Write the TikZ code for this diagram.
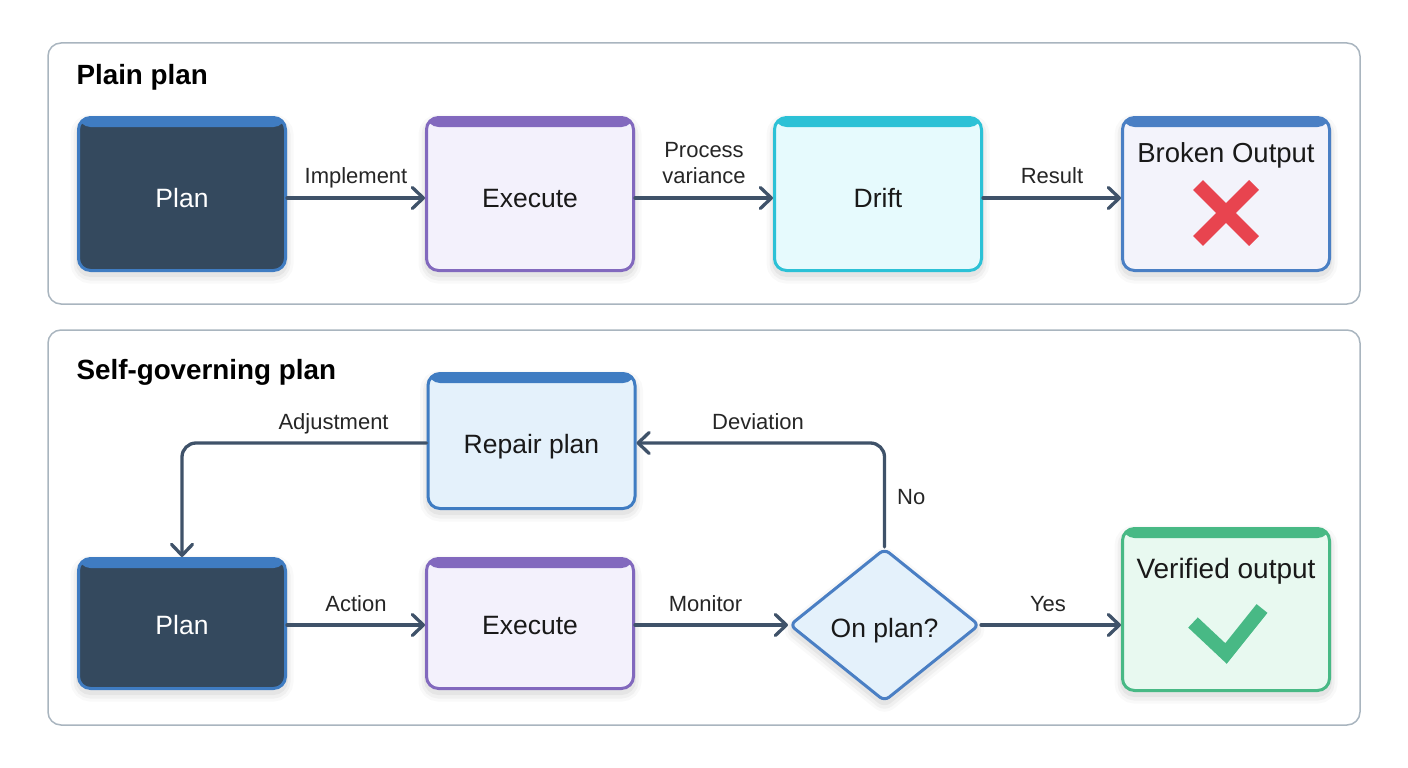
\documentclass[tikz,border=0pt]{standalone}
\usepackage{fontspec}
\setmainfont{Liberation Sans}
\usepackage{xcolor}
\usepackage{tikz}
\usetikzlibrary{arrows.meta, calc, shapes.geometric}

\definecolor{PanelLine}{HTML}{A9B5BF}
\definecolor{FlowLine}{HTML}{3F5269}
\definecolor{PlanBlue}{HTML}{3F7CC2}
\definecolor{PlanDark}{HTML}{34495E}
\definecolor{ExecLine}{HTML}{8269BE}
\definecolor{ExecFill}{HTML}{F3F1FC}
\definecolor{DriftLine}{HTML}{2CC1D6}
\definecolor{DriftFill}{HTML}{E6FAFD}
\definecolor{BrokenLine}{HTML}{4A7FC4}
\definecolor{BrokenFill}{HTML}{F3F3FB}
\definecolor{RepairFill}{HTML}{E4F1FB}
\definecolor{GoodGreen}{HTML}{48B985}
\definecolor{GoodFill}{HTML}{E8F9F0}
\definecolor{BadRed}{HTML}{E8444F}

\tikzset{
	softshadow/.style={
		preaction={draw=black, draw opacity=0.025, line width=16pt, transform canvas={yshift=-5pt}},
		preaction={draw=black, draw opacity=0.035, line width=10pt, transform canvas={yshift=-5pt}},
		preaction={draw=black, draw opacity=0.045, line width=5pt, transform canvas={yshift=-4pt}}},
	panel/.style={draw=PanelLine, line width=1.5pt, rounded corners=13pt, fill=white},
	title/.style={anchor=west, font=\fontsize{27.8}{30}\selectfont\bfseries, text=black},
	card/.style 2 args={softshadow, draw=#1, fill=#2, line width=3pt, rounded corners=12pt,
		minimum width=207pt, font=\fontsize{26.5}{30}\selectfont, text=black!90,
		path picture={\fill[#1] (path picture bounding box.north west) rectangle
			([yshift=-9.5pt]path picture bounding box.north east);}},
	flow/.style={draw=FlowLine, line width=3.3pt, line cap=round,
		-{Straight Barb[length=11pt, width=21pt, line width=3.3pt, round]}},
	tag/.style={font=\fontsize{22}{26}\selectfont, text=black!85, inner sep=3pt, text depth=5pt, align=center}
}

\begin{document}
\begin{tikzpicture}[x=1pt, y=-1pt]

	\useasboundingbox (0,0) rectangle (1408,768);

	% top panel
	\node[panel, minimum width=1312pt, minimum height=261pt] (plainbox) at (704,173.5) {};
	\node[title] (plaintitle) at (73,77) {Plain plan};

	\node[card={PlanBlue}{PlanDark}, minimum height=153pt, text height=26pt, text depth=0pt, text=white] (plan) at (182,194) {Plan};
	\node[card={ExecLine}{ExecFill}, minimum height=153pt, text height=26pt, text depth=0pt] (execute) at (530,194) {Execute};
	\node[card={DriftLine}{DriftFill}, minimum height=153pt, text height=26pt, text depth=0pt] (drift) at (878,194) {Drift};
	\node[card={BrokenLine}{BrokenFill}, minimum height=153pt, text height=0pt, text depth=64pt, font=\fontsize{27.5}{30}\selectfont] (broken) at (1226,194) {Broken Output};

	\draw[BadRed, line width=14pt] ($ (broken.center)+(-28,-9) $) -- ($ (broken.center)+(28,47) $);
	\draw[BadRed, line width=14pt] ($ (broken.center)+(28,-9) $) -- ($ (broken.center)+(-28,47) $);

	\draw[flow] ([yshift=-4pt]plan.east) -- ([yshift=-4pt]execute.west) node[midway, above=5pt, tag] (implement) {Implement};
	\draw[flow] ([yshift=-4pt]execute.east) -- ([yshift=-4pt]drift.west) node[midway, above=5pt, tag] (variance) {Process\\variance};
	\draw[flow] ([yshift=-4pt]drift.east) -- ([yshift=-4pt]broken.west) node[midway, above=5pt, tag] (result) {Result};

	% bottom panel
	\node[panel, minimum width=1312pt, minimum height=395pt] (selfbox) at (704,527.5) {};
	\node[title] (selftitle) at (73,372) {Self-governing plan};

	\node[card={PlanBlue}{RepairFill}, minimum height=135pt, text height=24pt, text depth=0pt] (repair) at (531.5,441) {Repair plan};
	\node[card={PlanBlue}{PlanDark}, minimum height=130pt, text height=21pt, text depth=0pt, text=white] (plantwo) at (182,623.5) {Plan};
	\node[card={ExecLine}{ExecFill}, minimum height=130pt, text height=21pt, text depth=0pt] (executetwo) at (530,623.5) {Execute};
	\node[softshadow, draw=BrokenLine, fill=RepairFill, line width=3pt, shape=diamond, aspect=1.24, rounded corners=6pt,
		inner sep=0pt, minimum width=190pt, minimum height=153pt, text height=24pt, text depth=0pt, font=\fontsize{26.5}{30}\selectfont, text=black!90] (onplan) at (884.5,625) {On plan?};
	\node[card={GoodGreen}{GoodFill}, minimum height=162pt, text height=0pt, text depth=63pt, font=\fontsize{28}{30}\selectfont] (verified) at (1226,609.5) {Verified output};

	\draw[GoodGreen, line width=14pt] ($ (verified.center)+(-33,13) $) -- ($ (verified.center)+(0,44) $) -- ($ (verified.center)+(36,-1) $);

	\draw[flow] ([yshift=-1.5pt]plantwo.east) -- ([yshift=-1.5pt]executetwo.west) node[midway, above=4pt, tag] (action) {Action};
	\draw[flow] ([yshift=-1.5pt]executetwo.east) -- (onplan.west) node[midway, above=4pt, tag, xshift=-6pt] (monitor) {Monitor};
	\draw[flow] (onplan.east) -- (onplan.east -| verified.west) node[midway, above=4pt, tag, xshift=-3pt] (yes) {Yes};
	\draw[flow, rounded corners=14pt] (onplan.north) |- ([yshift=-2pt]repair.east) node[pos=0.755, above=4pt, tag] (deviation) {Deviation} node[pos=0.25, right, tag, xshift=8pt, yshift=-4pt] (no) {No};
	\draw[flow, rounded corners=14pt] ([yshift=-2pt]repair.west) -| (plantwo.north) node[pos=0.19, above=4pt, tag] (adjustment) {Adjustment};

\end{tikzpicture}
\end{document}
